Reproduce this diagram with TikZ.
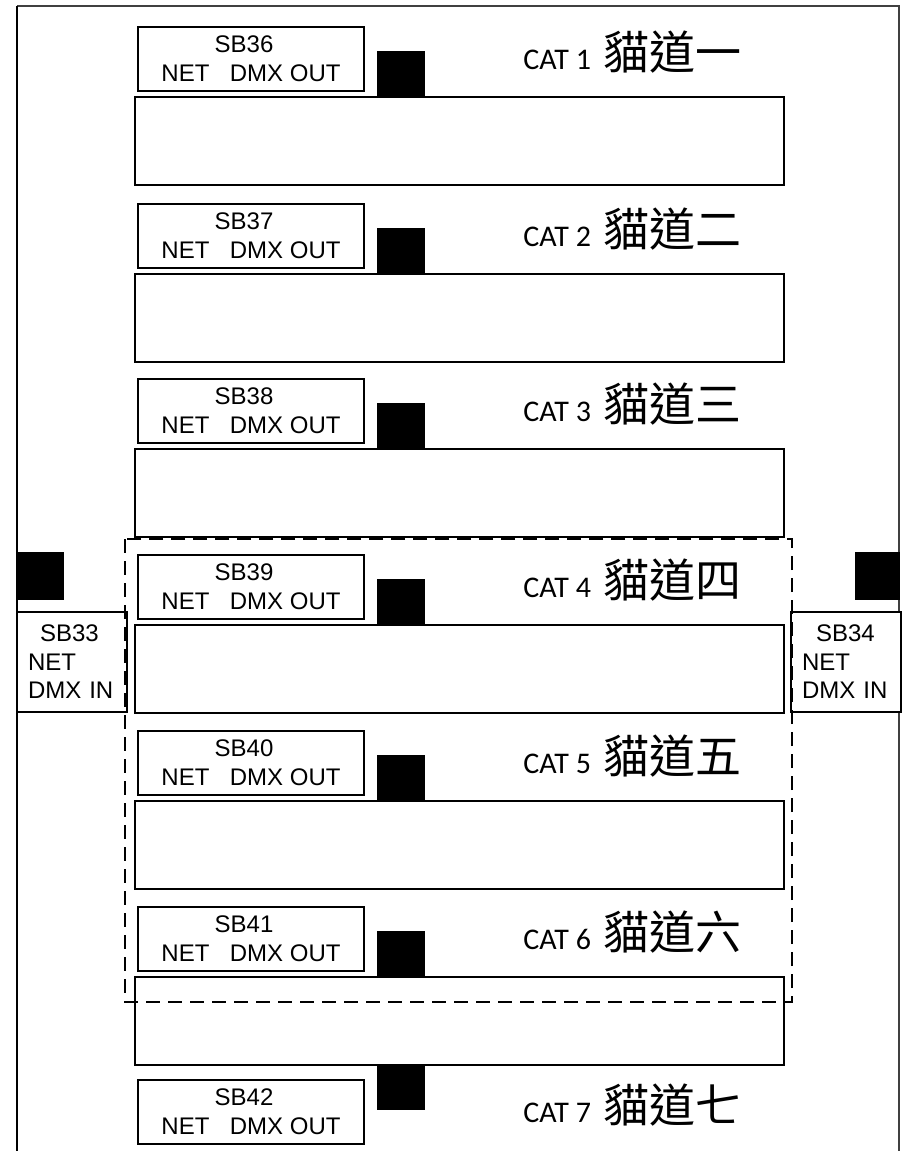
\documentclass[tikz,border=0pt]{standalone}
\usepackage{fontspec}
\newfontfamily\arial{Liberation Sans}
\newfontfamily\calibri{Carlito}
\newfontfamily\cjk{Noto Sans CJK TC}
\tikzset{
    sbbox/.style={draw, line width=0.8pt, fill=white, minimum width=113pt, minimum height=32pt,
        inner sep=0pt, align=center, font=\arial\fontsize{12}{14.5}\selectfont},
    inbox/.style={draw, line width=0.8pt, fill=white, minimum width=55pt, minimum height=50pt,
        inner xsep=5.5pt, inner ysep=0pt, text width=44pt, align=left,
        font=\arial\fontsize{12}{14.2}\selectfont},
    catwalk/.style={draw, line width=1.3pt},
    catlabel/.style={anchor=base west, inner sep=0pt, font=\calibri\fontsize{15}{18}\selectfont},
}
\newcommand{\catname}[1]{\hspace{3pt}{\cjk\fontsize{23}{23}\selectfont 貓道#1}}
\begin{document}
\begin{tikzpicture}[x=0.5pt, y=-0.5pt]
            \useasboundingbox (0,0) rectangle (901,1151);
            % outer wall
            \draw[black!75, line width=0.8pt] (17,6) -- (899,6) -- (899,1151);
            \draw[line width=1.2pt] (17,1151) -- (17,6);
            % catwalks
            \foreach \i/\t/\sb/\cn in {1/25/36/一, 2/202/37/二, 3/377/38/三, 4/553/39/四, 5/729/40/五, 6/905/41/六}
            {
                \draw[catwalk] (135,\t+72) rectangle (784,\t+160);
                \fill (377,\t+26) rectangle (425,\t+72);
                \node[sbbox] (sb\sb) at (251,\t+34) {SB\sb\hspace*{7pt}\\NET\hspace{0.85em}DMX OUT};
                \node[catlabel] (cat\i) at (523,\t+44) {CAT \i\ \catname{\cn}};
            };
            \fill (377,1065) rectangle (425,1110);
            \node[sbbox] (sb42) at (251,1112) {SB42\hspace*{7pt}\\NET\hspace{0.85em}DMX OUT};
            \node[catlabel] (cat7) at (523,1122) {CAT 7\ \catname{七}};
            % DMX in
            \fill (17,552) rectangle (64,600);
            \fill (855,552) rectangle (900,600);
            \node[inbox] (sb33) at (72,662) {\hspace{6pt}SB33\\NET\\DMX IN};
            \node[inbox] (sb34) at (846,662) {\hspace{7pt}SB34\\NET\\DMX IN};
            \draw[dash pattern=on 7pt off 4pt, line width=0.8pt] (125,539) rectangle (792,1002);
        \end{tikzpicture}
\end{document}
